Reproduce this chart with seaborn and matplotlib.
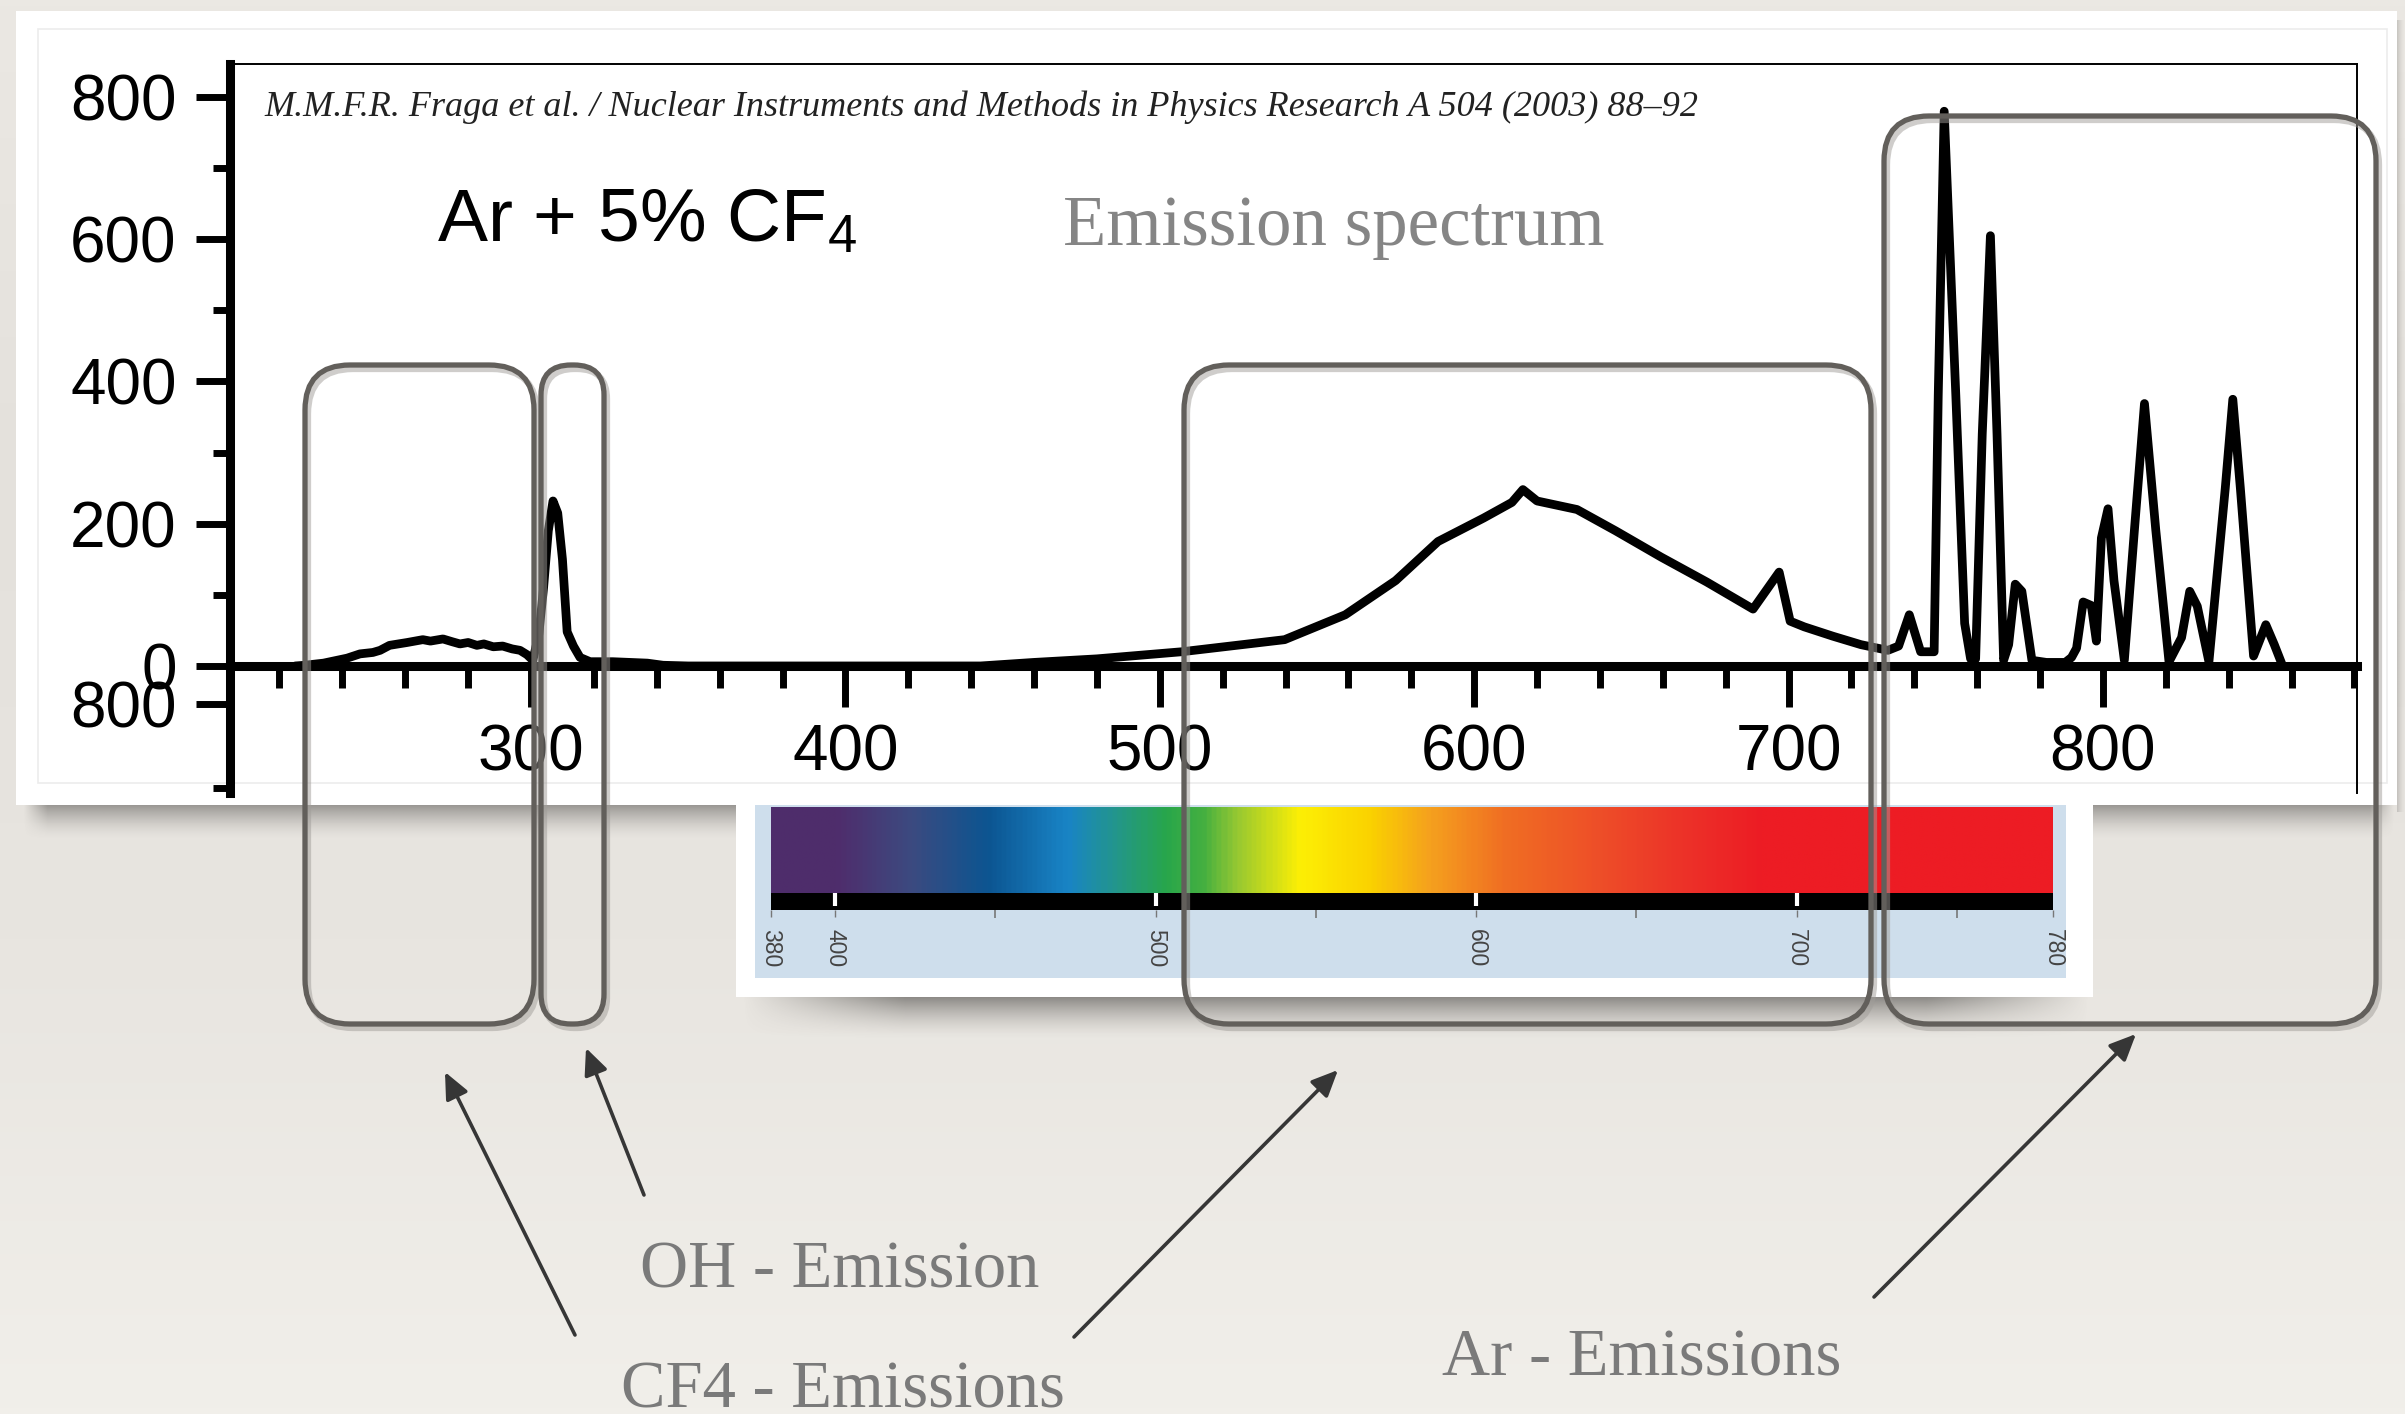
import numpy as np
import pandas as pd
import matplotlib
matplotlib.use("Agg")
import matplotlib.pyplot as plt
import seaborn as sns
from matplotlib.patches import FancyBboxPatch, Rectangle
from matplotlib.colors import LinearSegmentedColormap, to_rgb

# ---------------- data ----------------
wavelength = [225, 228, 234, 241.5, 245.6, 249.7, 252, 255, 260.6, 265.6, 268, 272, 275, 277.4,
              280, 282.8, 285, 288, 291, 294, 296.5, 298.7, 300.6, 302.5, 304, 305.5, 307,
              308.5, 310, 311.5, 313.5, 315.6, 318.8, 326, 337, 342, 350, 443, 460, 480, 507,
              539.7, 559, 575, 588.5, 603, 612, 615.5, 620, 632.7, 645, 659.5, 674, 688.7,
              697, 700.5, 705, 714, 723, 731.6, 735, 738.4, 742, 746.3, 747.6, 749.5, 753.2,
              756, 757.9, 759.5, 761.6, 764.2, 766.3, 768.4, 770, 772.1, 774.2, 777.4, 782,
              788, 790, 791.6, 793.7, 796.3, 797.9, 799.5, 801.6, 803.5, 806.8, 810, 813.2,
              816.8, 821, 825, 827.6, 830, 833.7, 838.9, 841.3, 843.7, 847.9, 851.8, 854.5,
              856.8]
intensity = [0, 1, 4, 11, 17, 19, 22, 29, 33, 37, 35, 38, 34, 31,
             33, 29, 31, 27, 28, 24, 22, 16, 8, 45, 110, 190, 232,
             215, 150, 48, 28, 12, 6, 6, 4, 1, 0, 0, 5, 10, 20,
             37, 72, 120, 175, 208, 230, 248, 232, 220, 190, 153, 118, 80,
             132, 63, 55, 42, 30, 22, 28, 72, 20, 20, 380, 780, 380,
             60, 10, 10, 326, 605, 326, 8, 30, 115, 105, 8, 5,
             5, 12, 25, 90, 85, 35, 180, 221, 120, 8, 191, 369,
             191, 6, 40, 105, 84, 6, 250, 375, 250, 14, 58, 30,
             4]

y_tick_values = [-53.4, 0, 200, 400, 600, 800]
y_tick_labels = ["800", "0", "200", "400", "600", "800"]
y_minor_values = [-172, 100, 300, 500, 700]
x_tick_values = [300, 400, 500, 600, 700, 800]
x_minor_values = list(range(220, 881, 20))

bar_tick_values = [380, 400, 500, 600, 700, 780]
bar_tick_labels = ["380", "400", "500", "600", "700", "780"]
bar_minor_values = [450, 550, 650, 750]
bar_color_nm = [380, 400, 423, 447, 472, 487, 503, 515, 525, 545, 567, 586, 609, 637, 665, 690, 780]
bar_colors = ["#4e2d6b", "#4f2d6c", "#3c4a80", "#0c5591", "#1984c6", "#23968c", "#28a64b",
              "#46b040", "#96c832", "#fdef05", "#fad200", "#f5a01e", "#f06e23", "#ee5028",
              "#ec3229", "#ed1c24", "#ed1c24"]

citation = "M.M.F.R. Fraga et al. / Nuclear Instruments and Methods in Physics Research A 504 (2003) 88\u201392"
gas_label = "Ar + 5% CF$_4$"
title_label = "Emission spectrum"
annotation_labels = ["OH - Emission", "CF4 - Emissions", "Ar - Emissions"]

# ---------------- style ----------------
sns.set_style("ticks")
plt.rcParams["font.family"] = ["Liberation Sans", "DejaVu Sans"]
plt.rcParams["mathtext.fontset"] = "custom"
plt.rcParams["mathtext.rm"] = "Liberation Sans"
plt.rcParams["mathtext.it"] = "Liberation Sans"
plt.rcParams["mathtext.bf"] = "Liberation Sans"
plt.rcParams["mathtext.default"] = "regular"
plt.rcParams["xtick.color"] = "black"
plt.rcParams["ytick.color"] = "black"

W, H = 2405, 1414
fig = plt.figure(figsize=(W / 100, H / 100), dpi=100)


def px_axes(z):
    a = fig.add_axes([0, 0, 1, 1], zorder=z)
    a.set_xlim(0, W)
    a.set_ylim(H, 0)
    a.axis("off")
    a.patch.set_alpha(0)
    return a


def shadow(a, x0, x1, y0, y1, amax=0.55, color="#5a5855", edge_fade=0.0, vertical=True, n=64):
    c = to_rgb(color)
    t = np.linspace(1, 0, n) ** 1.6 * amax
    if vertical:
        m = 200
        xs = np.ones(m)
        if edge_fade > 0:
            u = np.linspace(0, 1, m)
            xs = np.clip(np.minimum(u, 1 - u) / edge_fade, 0, 1)
        alpha = t[:, None] * xs[None, :]
    else:
        alpha = t[None, :] * np.ones((40, 1))
    arr = np.zeros(alpha.shape + (4,))
    arr[..., 0], arr[..., 1], arr[..., 2] = c
    arr[..., 3] = alpha
    a.imshow(arr, extent=[x0, x1, y1, y0], aspect="auto", interpolation="bilinear", zorder=1)


# ---------------- background layer ----------------
bg = px_axes(0)
grad = np.linspace(0, 1, 256)[:, None]
bg_cmap = LinearSegmentedColormap.from_list("bg", ["#ebe8e3", "#e4e1dc", "#e8e5e0", "#f1efea"])
bg.imshow(grad, extent=[0, W, H, 0], cmap=bg_cmap, aspect="auto", zorder=0)
shadow(bg, 18, 2400, 803, 840, amax=0.6, edge_fade=0.01)
shadow(bg, 2397, 2405, 20, 812, amax=0.25, vertical=False)
bg.add_patch(Rectangle((16, 11), 2381, 794, fc="white", ec="none", zorder=2))
bg.add_patch(Rectangle((38, 29), 2349, 754, fc="none", ec="#ececec", lw=1.2, zorder=3))
bg.set_xlim(0, W)
bg.set_ylim(H, 0)

# ---------------- spectrum chart ----------------
ax = fig.add_axes([230 / W, 1 - 793 / H, (2357 - 230) / W, (793 - 64) / H], zorder=1)
ax.patch.set_alpha(0)
df = pd.DataFrame({"wavelength": wavelength, "intensity": intensity})
sns.lineplot(data=df, x="wavelength", y="intensity", ax=ax, color="black", lw=6.3,
             legend=False, sort=False, estimator=None,
             solid_joinstyle="round", solid_capstyle="round")
ax.set_xlabel("")
ax.set_ylabel("")
ax.set_xlim(204.26, 880.8)
ax.set_ylim(-178.6, 846.4)

ax.spines["left"].set_linewidth(6.5)
ax.spines["bottom"].set_linewidth(6.5)
ax.spines["bottom"].set_position(("data", 0))
ax.spines["top"].set_linewidth(1.4)
ax.spines["right"].set_linewidth(1.4)
for s in ax.spines.values():
    s.set_color("black")

ax.set_xticks(x_tick_values)
ax.set_xticklabels([str(v) for v in x_tick_values])
ax.set_xticks(x_minor_values, minor=True)
ax.set_yticks(y_tick_values)
ax.set_yticklabels(y_tick_labels)
ax.set_yticks(y_minor_values, minor=True)
ax.tick_params(axis="x", which="major", length=29.5, width=5, direction="out", pad=12, labelsize=46)
ax.tick_params(axis="x", which="minor", length=16, width=5, direction="out")
ax.tick_params(axis="y", which="major", length=24.5, width=5, direction="out", pad=14, labelsize=46)
ax.tick_params(axis="y", which="minor", length=12, width=5, direction="out")

# ---------------- colour bar card layer ----------------
mid = px_axes(2)
shadow(mid, 740, 2092, 997, 1040, amax=0.65, edge_fade=0.12)
mid.add_patch(Rectangle((736, 785), 1357, 212, fc="white", ec="none", zorder=2))
mid.add_patch(Rectangle((755, 805), 1311, 173, fc="#cedeec", ec="none", zorder=3))
mid.set_xlim(0, W)
mid.set_ylim(H, 0)

cax = fig.add_axes([771 / W, 1 - 910 / H, (2053 - 771) / W, (910 - 807) / H], zorder=3)
spec_cmap = LinearSegmentedColormap.from_list(
    "vis", [((v - 380) / 400, c) for v, c in zip(bar_color_nm, bar_colors)])
cax.imshow(np.linspace(380, 780, 800)[None, :], extent=[380, 780, 86, 0], cmap=spec_cmap,
           vmin=380, vmax=780, aspect="auto", interpolation="bilinear")
cax.add_patch(Rectangle((380, 86), 400, 17, fc="black", ec="none"))
cax.vlines(bar_tick_values[1:-1], 86, 99, colors="white", lw=3)
cax.set_xlim(380, 780)
cax.set_ylim(103, 0)
for s in cax.spines.values():
    s.set_visible(False)
cax.set_yticks([])
cax.set_xticks(bar_tick_values)
cax.set_xticklabels(bar_tick_labels, rotation=-90, fontsize=16.5, color="#444444")
cax.set_xticks(bar_minor_values, minor=True)
cax.tick_params(axis="x", which="major", length=5, width=1, color="#777777", pad=9)
cax.tick_params(axis="x", which="minor", length=6, width=1.2, color="#777777")

# ---------------- overlay: texts, boxes, arrows ----------------
top = px_axes(5)
top.text(264, 107, citation, fontsize=26, family=["Liberation Serif"], style="italic",
         va="center", ha="left", color="#222222")
top.text(437, 241, gas_label, fontsize=54, va="baseline", ha="left", color="black")
top.text(1063, 245, title_label, fontsize=51, family=["Liberation Serif"], va="baseline",
         ha="left", color="#858585")

boxes = [(305, 365, 534, 1024, 45), (541, 365, 604, 1024, 30),
         (1184, 365, 1871, 1024, 45), (1884, 116, 2376, 1024, 45)]
for x0, y0, x1, y1, r in boxes:
    top.add_patch(FancyBboxPatch((x0 + 3, y0 + 4), x1 - x0, y1 - y0,
                                 boxstyle=f"round,pad=0,rounding_size={r}",
                                 fc="none", ec="#a09d99", lw=4.5, alpha=0.5))
    top.add_patch(FancyBboxPatch((x0, y0), x1 - x0, y1 - y0,
                                 boxstyle=f"round,pad=0,rounding_size={r}",
                                 fc="none", ec="#625f5b", lw=3.8))

arrows = [((575, 1335), (445, 1072)), ((644, 1195), (586, 1048)),
          ((1074, 1337), (1338, 1070)), ((1874, 1297), (2136, 1034))]
for start, end in arrows:
    top.annotate("", xy=end, xytext=start,
                 arrowprops=dict(arrowstyle="-|>,head_length=1.0,head_width=0.45",
                                 color="#363636", lw=2.6, shrinkA=0, shrinkB=0,
                                 mutation_scale=16))

label_pos = [(640, 1288), (621, 1408), (1442, 1375)]
for (x, y), lab in zip(label_pos, annotation_labels):
    top.text(x, y, lab, fontsize=48, family=["Liberation Serif"], color="#7a7a7a",
             va="baseline", ha="left")

top.set_xlim(0, W)
top.set_ylim(H, 0)

fig.savefig("out.png", dpi=100)
